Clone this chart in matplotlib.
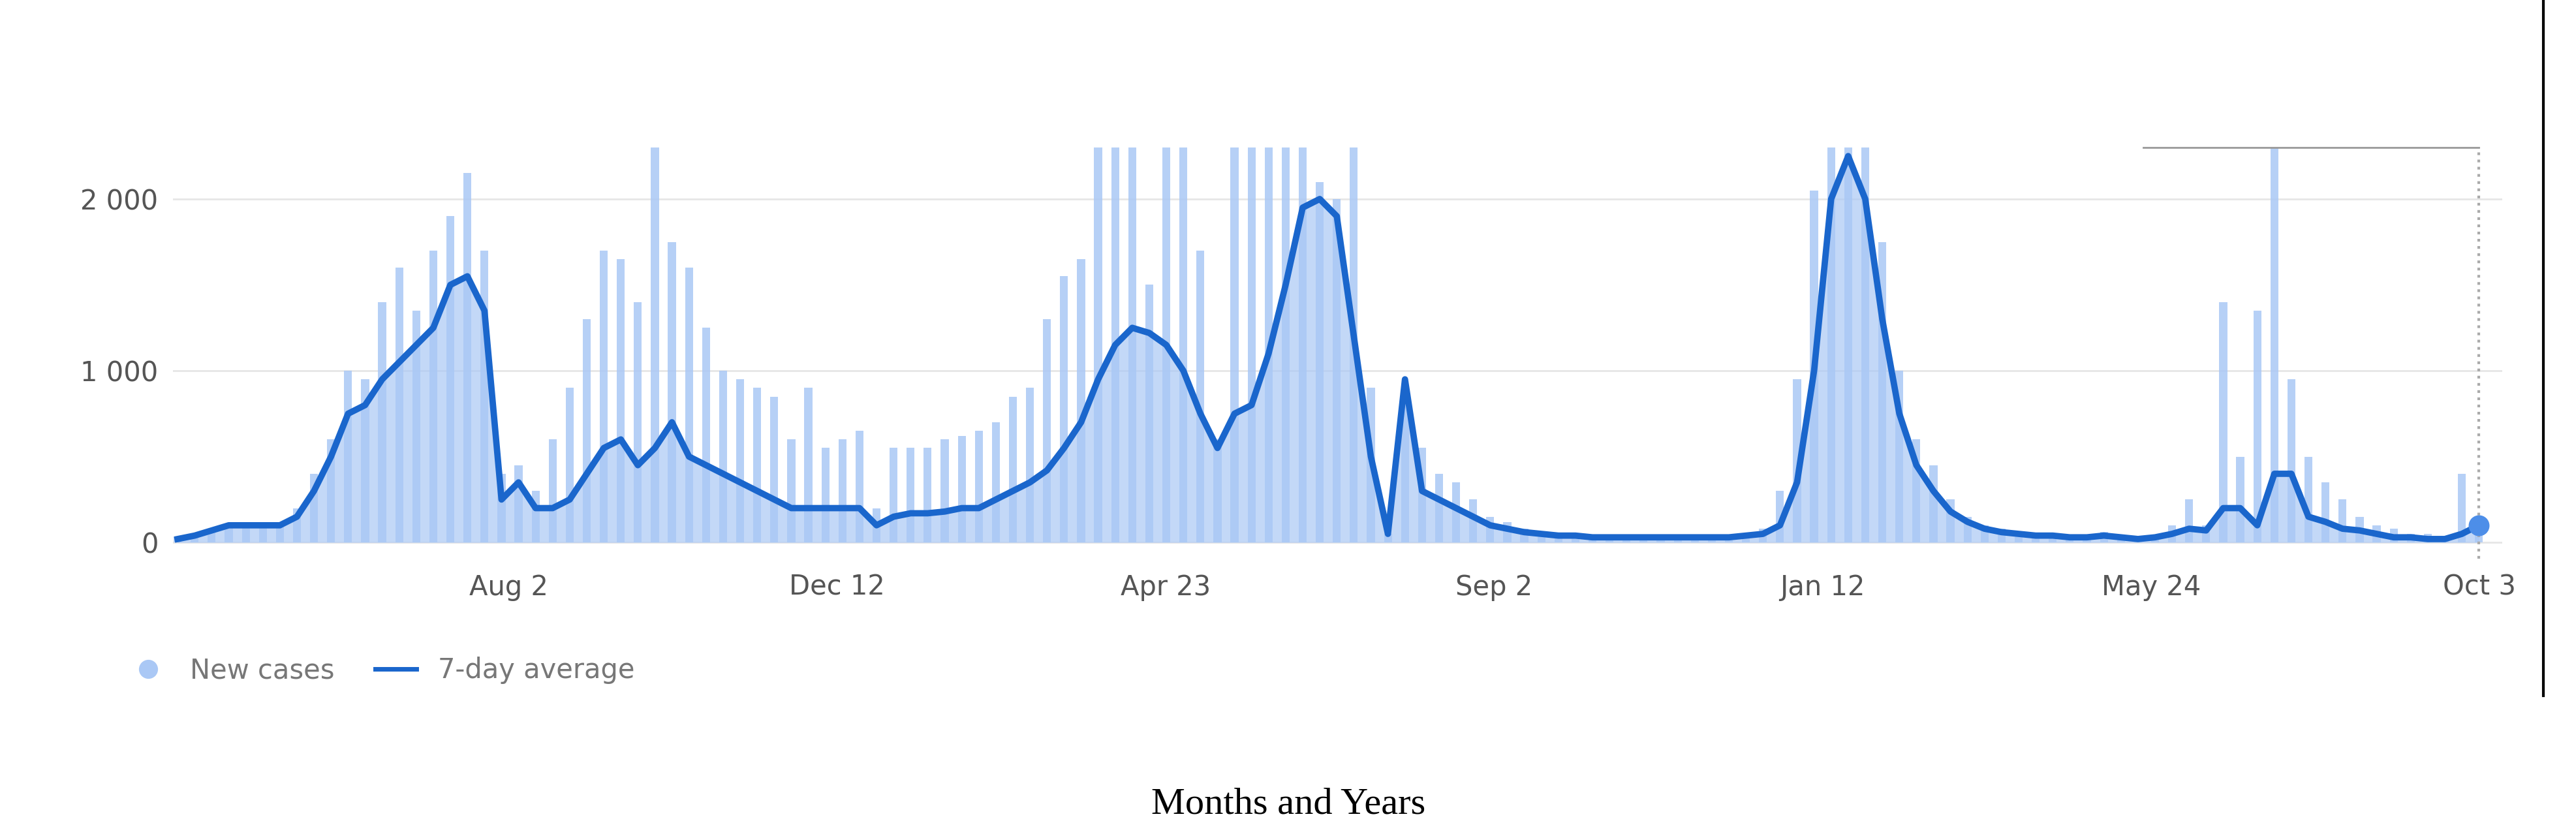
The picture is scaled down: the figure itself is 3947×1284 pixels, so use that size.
import matplotlib
matplotlib.use("Agg")
import matplotlib.pyplot as plt
from matplotlib.lines import Line2D
import numpy as np

avg_k = [0.02,0.04,0.07,0.1,0.1,0.1,0.1,0.15,0.3,0.5,0.75,0.8,0.95,1.05,1.15,1.25,1.5,1.55,1.35,0.25,
         0.35,0.2,0.2,0.25,0.4,0.55,0.6,0.45,0.55,0.7,0.5,0.45,0.4,0.35,0.3,0.25,0.2,0.2,0.2,0.2,
         0.2,0.1,0.15,0.17,0.17,0.18,0.2,0.2,0.25,0.3,0.35,0.42,0.55,0.7,0.95,1.15,1.25,1.22,1.15,1.0,
         0.75,0.55,0.75,0.8,1.1,1.5,1.95,2.0,1.9,1.2,0.5,0.05,0.95,0.3,0.25,0.2,0.15,0.1,0.08,0.06,
         0.05,0.04,0.04,0.03,0.03,0.03,0.03,0.03,0.03,0.03,0.03,0.03,0.04,0.05,0.1,0.35,1.0,2.0,2.25,2.0,
         1.3,0.75,0.45,0.3,0.18,0.12,0.08,0.06,0.05,0.04,0.04,0.03,0.03,0.04,0.03,0.02,0.03,0.05,0.08,0.07,
         0.2,0.2,0.1,0.4,0.4,0.15,0.12,0.08,0.07,0.05,0.03,0.03,0.02,0.02,0.05,0.1]
new_k = [0.03,0.05,0.08,0.1,0.1,0.12,0.12,0.2,
         0.4,0.6,1.0,0.95,1.4,1.6,1.35,1.7,1.9,2.15,1.7,
         0.4,0.45,0.3,0.6,0.9,1.3,1.7,1.65,1.4,2.3,1.75,1.6,
         1.25,1.0,0.95,0.9,0.85,0.6,0.9,0.55,0.6,0.65,0.2,
         0.55,0.55,0.55,0.6,0.62,0.65,0.7,0.85,0.9,1.3,1.55,1.65,
         2.3,2.3,2.3,1.5,2.3,2.3,1.7,
         0.6,2.3,2.3,2.3,2.3,2.3,2.1,2.0,2.3,0.9,
         0.05,0.9,0.55,0.4,0.35,0.25,0.15,0.12,0.08,0.06,
         0.05,0.05,0.04,0.04,0.04,0.04,0.04,0.04,0.04,0.04,0.04,0.05,0.08,
         0.3,0.95,2.05,2.3,2.3,2.3,1.75,1.0,0.6,0.45,0.25,0.15,
         0.1,0.08,0.06,0.05,0.05,0.04,0.04,0.06,0.04,0.03,0.04,0.1,0.25,0.1,
         1.4,0.5,1.35,2.3,0.95,0.5,0.35,0.25,0.15,0.1,0.08,0.05,0.05,0.04,0.4,0.1]
tick_days = [133, 265, 397, 529, 661, 793, 925]
tick_labels = ["Aug 2", "Dec 12", "Apr 23", "Sep 2", "Jan 12", "May 24", "Oct 3"]

days = np.arange(len(avg_k)) * 6.85
avg = np.array(avg_k) * 1000
new = np.array(new_k[:len(avg_k)]) * 1000

fig = plt.figure(figsize=(39.48, 12.84), dpi=100)
ax = fig.add_axes([0.067, 0.333, 0.904, 0.491])
ax.fill_between(days, 0, avg, color="#aac8f5", alpha=0.7, zorder=2, lw=0)
ax.bar(days, new, width=3.2, color="#aac8f5", alpha=0.85, zorder=2)
ax.plot(days, avg, color="#1a66cc", lw=7, zorder=3, solid_joinstyle="round")
ax.plot(days[-1], avg[-1], "o", color="#4d8ee8", ms=22, zorder=4)
ax.set_xlim(-2, 934)
ax.set_ylim(-96, 2300)
ax.set_yticks([0, 1000, 2000])
ax.set_yticklabels(["0", "1 000", "2 000"])
ax.set_xticks(tick_days)
ax.set_xticklabels(tick_labels)
ax.tick_params(length=0, labelsize=30, colors="#555555", pad=16)
ax.grid(axis="y", color="#e6e6e6", lw=2)
ax.set_axisbelow(True)
for s in ax.spines.values():
    s.set_visible(False)
ax.axvline(days[-1], color="#aaaaaa", ls=":", lw=3, ymin=0, ymax=1.0)
ax.plot([790, days[-1]], [2300, 2300], color="#999999", lw=2, clip_on=False)

h1 = Line2D([], [], marker="o", color="#aac8f5", ls="none", ms=20)
h2 = Line2D([], [], color="#1a66cc", lw=5)
fig.legend([h1, h2], ["New cases", "7-day average"], loc="center left",
           bbox_to_anchor=(0.04, 0.2), ncol=2, frameon=False, fontsize=30,
           labelcolor="#777777", handlelength=1.5, columnspacing=1.5)
fig.add_artist(Line2D([0.987, 0.987], [0.17, 1.0], color="black", lw=3))
fig.text(0.5, 0.04, "Months and Years", ha="center", va="center",
         family="Liberation Serif", fontsize=42)
fig.savefig("out.png", dpi=100)
